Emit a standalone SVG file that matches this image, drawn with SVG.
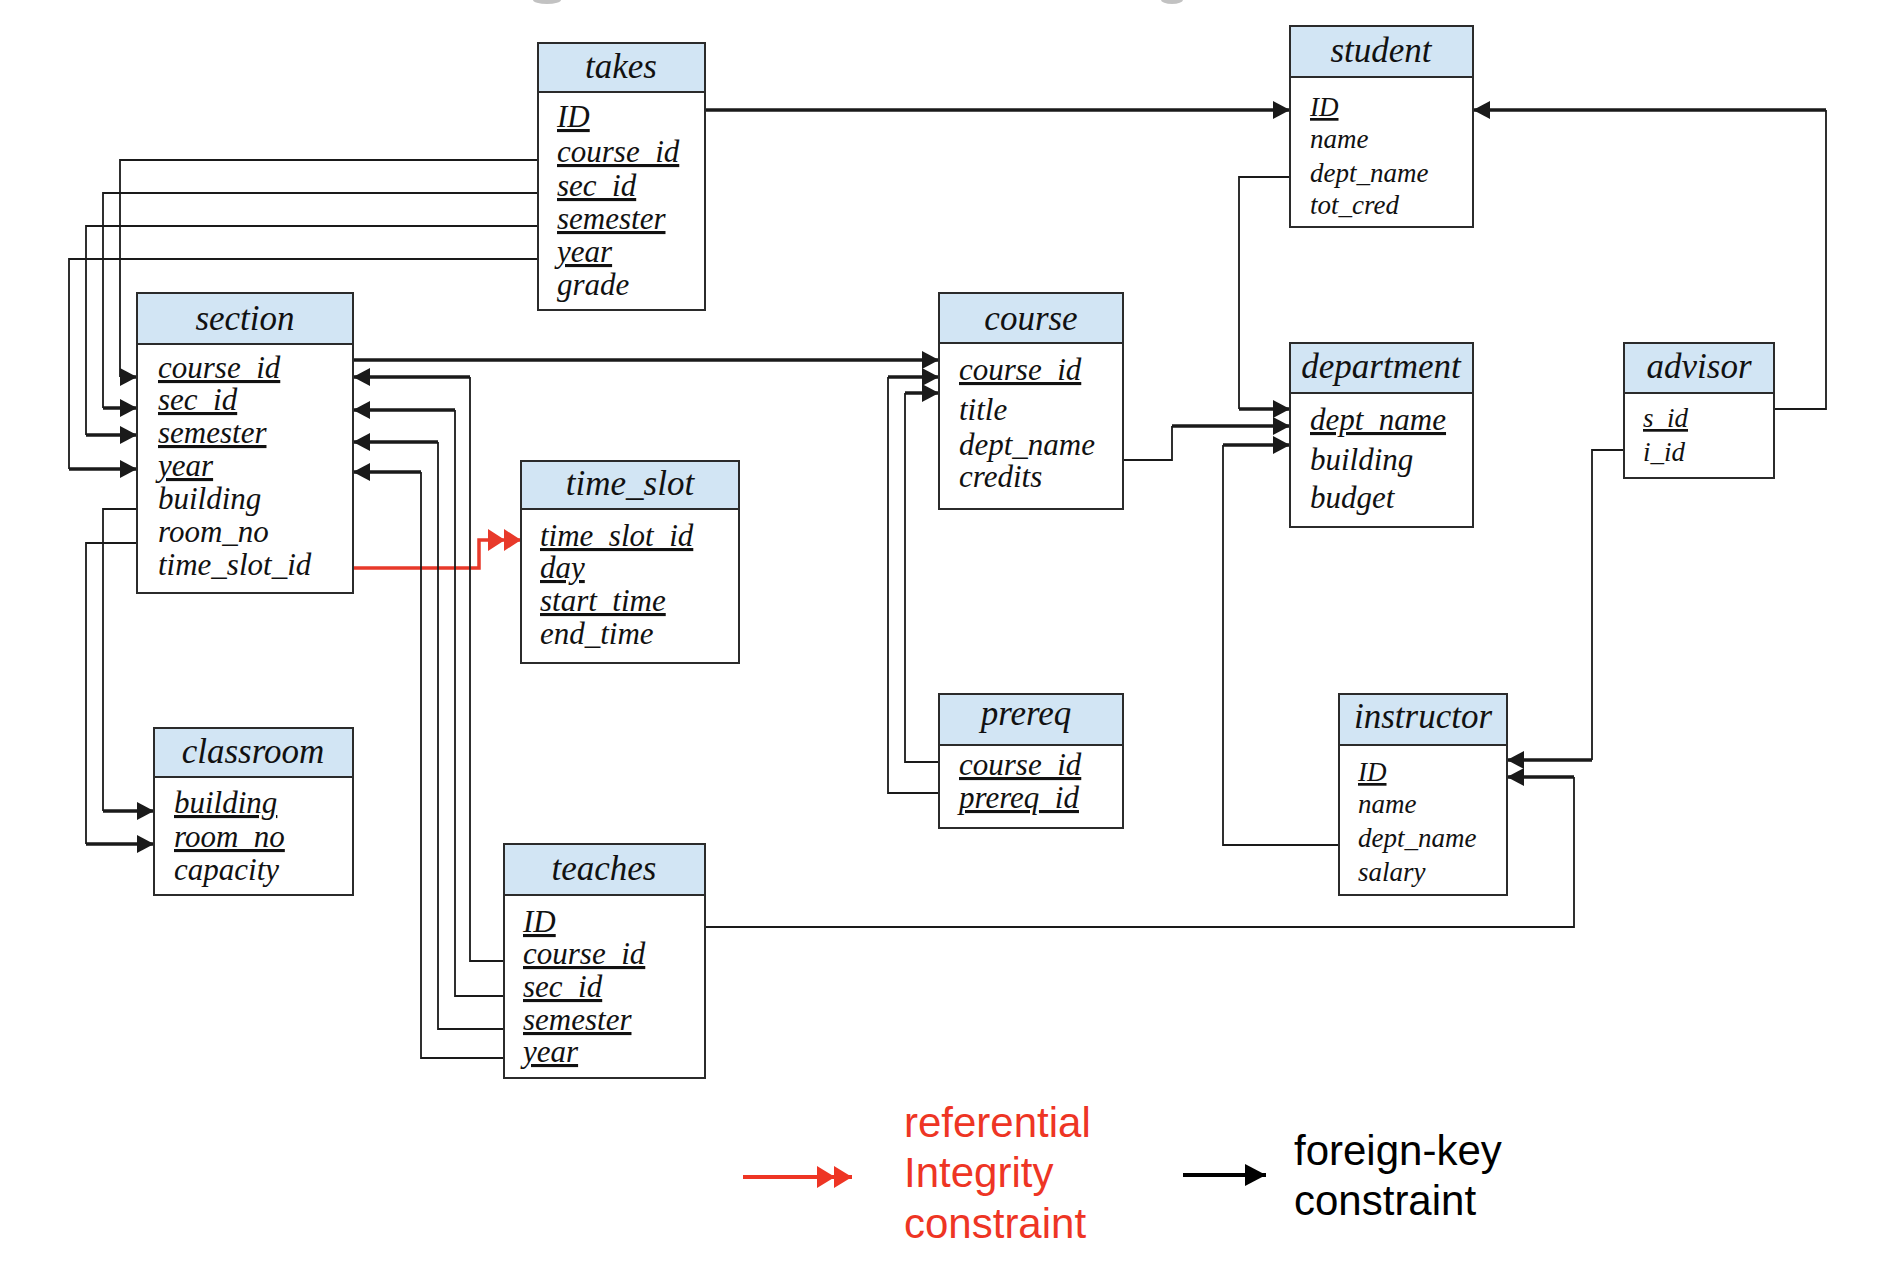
<svg xmlns="http://www.w3.org/2000/svg" width="1892" height="1266" viewBox="0 0 1892 1266">
<style>
.box{fill:#fff;stroke:#2b2b2b;stroke-width:2}
.hdr{fill:#d2e5f4;stroke:#2b2b2b;stroke-width:2}
.t{font-family:"Liberation Serif","DejaVu Serif",serif;font-style:italic;font-size:35px;fill:#111;text-anchor:middle}
.r{font-family:"Liberation Serif","DejaVu Serif",serif;font-style:italic;font-size:31px;fill:#111}
.s{font-size:27px}
.u{text-decoration:underline}
.ln{fill:none;stroke:#1a1a1a;stroke-width:1.8}
.tk{fill:none;stroke:#1a1a1a;stroke-width:3.5}
.red{fill:none;stroke:#e8392a;stroke-width:3.5}
.lg{font-family:"Liberation Sans",Arial,sans-serif;font-size:42px}
</style>
<defs>
<marker id="ar" markerUnits="userSpaceOnUse" markerWidth="18" markerHeight="18" viewBox="0 0 18 18" refX="17" refY="9" orient="auto">
<path d="M0,0 L17,9 L0,18 Z" fill="#1a1a1a"/>
</marker>
<marker id="dr" markerUnits="userSpaceOnUse" markerWidth="34" markerHeight="24" viewBox="0 0 34 24" refX="33" refY="12" orient="auto">
<path d="M0,1 L17,12 L0,23 Z M16,1 L33,12 L16,23 Z" fill="#e8392a"/>
</marker>
<marker id="arL" markerUnits="userSpaceOnUse" markerWidth="22" markerHeight="22" viewBox="0 0 22 22" refX="21" refY="11" orient="auto">
<path d="M0,0 L21,11 L0,22 Z" fill="#000"/>
</marker>
<marker id="drL" markerUnits="userSpaceOnUse" markerWidth="36" markerHeight="24" viewBox="0 0 36 24" refX="35" refY="12" orient="auto">
<path d="M0,1 L18,12 L0,23 Z M17,1 L35,12 L17,23 Z" fill="#ee3524"/>
</marker>
</defs>
<rect width="1892" height="1266" fill="#fff"/>
<ellipse cx="547" cy="0" rx="14" ry="4" fill="#9a9a9a" opacity="0.6"/>
<ellipse cx="1172" cy="0" rx="11" ry="4" fill="#9a9a9a" opacity="0.6"/>

<g id="connectors">
<path class="tk" d="M705,110 H1290" marker-end="url(#ar)"/>
<path class="ln" d="M538,160 H120 V377"/>
<path class="tk" d="M120,377 H137" marker-end="url(#ar)"/>
<path class="ln" d="M538,193 H103 V408"/>
<path class="tk" d="M103,408 H137" marker-end="url(#ar)"/>
<path class="ln" d="M538,226 H86 V435"/>
<path class="tk" d="M86,435 H137" marker-end="url(#ar)"/>
<path class="ln" d="M538,259 H69 V469"/>
<path class="tk" d="M69,469 H137" marker-end="url(#ar)"/>
<path class="ln" d="M137,509 H103 V811"/>
<path class="tk" d="M103,811 H154" marker-end="url(#ar)"/>
<path class="ln" d="M137,543 H86 V844"/>
<path class="tk" d="M86,844 H154" marker-end="url(#ar)"/>
<path class="red" d="M349,568 H479 V540 H521" marker-end="url(#dr)"/>
<path class="tk" d="M353,360 H939" marker-end="url(#ar)"/>
<path class="ln" d="M504,961 H470 V377"/>
<path class="tk" d="M470,377 H353" marker-end="url(#ar)"/>
<path class="ln" d="M504,996 H455 V410"/>
<path class="tk" d="M455,410 H353" marker-end="url(#ar)"/>
<path class="ln" d="M504,1029 H438 V442"/>
<path class="tk" d="M438,442 H353" marker-end="url(#ar)"/>
<path class="ln" d="M504,1058 H421 V472"/>
<path class="tk" d="M421,472 H353" marker-end="url(#ar)"/>
<path class="ln" d="M705,927 H1574 V777"/>
<path class="tk" d="M1574,777 H1507" marker-end="url(#ar)"/>
<path class="ln" d="M939,762 H905 V393"/>
<path class="tk" d="M905,393 H939" marker-end="url(#ar)"/>
<path class="ln" d="M939,793 H888 V377"/>
<path class="tk" d="M888,377 H939" marker-end="url(#ar)"/>
<path class="ln" d="M1123,460 H1172 V426"/>
<path class="tk" d="M1172,426 H1290" marker-end="url(#ar)"/>
<path class="ln" d="M1290,177 H1239 V409"/>
<path class="tk" d="M1239,409 H1290" marker-end="url(#ar)"/>
<path class="ln" d="M1339,845 H1223 V445"/>
<path class="tk" d="M1223,445 H1290" marker-end="url(#ar)"/>
<path class="ln" d="M1774,409 H1826 V110"/>
<path class="tk" d="M1826,110 H1473" marker-end="url(#ar)"/>
<path class="ln" d="M1624,450 H1592 V760"/>
<path class="tk" d="M1592,760 H1507" marker-end="url(#ar)"/>
</g>

<g id="takes">
<rect class="box" x="538" y="43" width="167" height="267"/>
<rect class="hdr" x="538" y="43" width="167" height="49"/>
<text class="t" x="621" y="78">takes</text>
<text class="r u" x="557" y="127">ID</text>
<text class="r u" x="557" y="162">course_id</text>
<text class="r u" x="557" y="196">sec_id</text>
<text class="r u" x="557" y="229">semester</text>
<text class="r u" x="557" y="262">year</text>
<text class="r" x="557" y="295">grade</text>
</g>

<g id="section">
<rect class="box" x="137" y="293" width="216" height="300"/>
<rect class="hdr" x="137" y="293" width="216" height="51"/>
<text class="t" x="245" y="330">section</text>
<text class="r u" x="158" y="378">course_id</text>
<text class="r u" x="158" y="410">sec_id</text>
<text class="r u" x="158" y="443">semester</text>
<text class="r u" x="158" y="476">year</text>
<text class="r" x="158" y="509">building</text>
<text class="r" x="158" y="542">room_no</text>
<text class="r" x="158" y="575">time_slot_id</text>
</g>

<g id="time_slot">
<rect class="box" x="521" y="461" width="218" height="202"/>
<rect class="hdr" x="521" y="461" width="218" height="48"/>
<text class="t" x="630" y="495">time_slot</text>
<text class="r u" x="540" y="546">time_slot_id</text>
<text class="r u" x="540" y="578">day</text>
<text class="r u" x="540" y="611">start_time</text>
<text class="r" x="540" y="644">end_time</text>
</g>

<g id="classroom">
<rect class="box" x="154" y="728" width="199" height="167"/>
<rect class="hdr" x="154" y="728" width="199" height="49"/>
<text class="t" x="253" y="763">classroom</text>
<text class="r u" x="174" y="813">building</text>
<text class="r u" x="174" y="847">room_no</text>
<text class="r" x="174" y="880">capacity</text>
</g>

<g id="teaches">
<rect class="box" x="504" y="844" width="201" height="234"/>
<rect class="hdr" x="504" y="844" width="201" height="51"/>
<text class="t" x="604" y="880">teaches</text>
<text class="r u" x="523" y="932">ID</text>
<text class="r u" x="523" y="964">course_id</text>
<text class="r u" x="523" y="997">sec_id</text>
<text class="r u" x="523" y="1030">semester</text>
<text class="r u" x="523" y="1062">year</text>
</g>

<g id="student">
<rect class="box" x="1290" y="26" width="183" height="201"/>
<rect class="hdr" x="1290" y="26" width="183" height="51"/>
<text class="t" x="1381" y="62">student</text>
<text class="r s u" x="1310" y="116">ID</text>
<text class="r s" x="1310" y="148">name</text>
<text class="r s" x="1310" y="182">dept_name</text>
<text class="r s" x="1310" y="214">tot_cred</text>
</g>

<g id="course">
<rect class="box" x="939" y="293" width="184" height="216"/>
<rect class="hdr" x="939" y="293" width="184" height="50"/>
<text class="t" x="1031" y="330">course</text>
<text class="r u" x="959" y="380">course_id</text>
<text class="r" x="959" y="420">title</text>
<text class="r" x="959" y="455">dept_name</text>
<text class="r" x="959" y="487">credits</text>
</g>

<g id="department">
<rect class="box" x="1290" y="343" width="183" height="184"/>
<rect class="hdr" x="1290" y="343" width="183" height="50"/>
<text class="t" x="1381" y="378">department</text>
<text class="r u" x="1310" y="430">dept_name</text>
<text class="r" x="1310" y="470">building</text>
<text class="r" x="1310" y="508">budget</text>
</g>

<g id="advisor">
<rect class="box" x="1624" y="343" width="150" height="135"/>
<rect class="hdr" x="1624" y="343" width="150" height="50"/>
<text class="t" x="1699" y="378">advisor</text>
<text class="r s u" x="1643" y="427">s_id</text>
<text class="r s" x="1643" y="461">i_id</text>
</g>

<g id="prereq">
<rect class="box" x="939" y="694" width="184" height="134"/>
<rect class="hdr" x="939" y="694" width="184" height="51"/>
<text class="t" x="1026" y="725">prereq</text>
<text class="r u" x="959" y="775">course_id</text>
<text class="r u" x="959" y="808">prereq_id</text>
</g>

<g id="instructor">
<rect class="box" x="1339" y="694" width="168" height="201"/>
<rect class="hdr" x="1339" y="694" width="168" height="51"/>
<text class="t" x="1423" y="728">instructor</text>
<text class="r s u" x="1358" y="781">ID</text>
<text class="r s" x="1358" y="813">name</text>
<text class="r s" x="1358" y="847">dept_name</text>
<text class="r s" x="1358" y="881">salary</text>
</g>

<g id="legend">
<path d="M743,1177 H852" fill="none" stroke="#ee3524" stroke-width="4" marker-end="url(#drL)"/>
<text class="lg" x="904" y="1137" fill="#ee3524">referential</text>
<text class="lg" x="904" y="1187" fill="#ee3524">Integrity</text>
<text class="lg" x="904" y="1238" fill="#ee3524">constraint</text>
<path d="M1183,1175 H1266" fill="none" stroke="#000" stroke-width="4" marker-end="url(#arL)"/>
<text class="lg" x="1294" y="1165" fill="#000">foreign-key</text>
<text class="lg" x="1294" y="1215" fill="#000">constraint</text>
</g>
</svg>
